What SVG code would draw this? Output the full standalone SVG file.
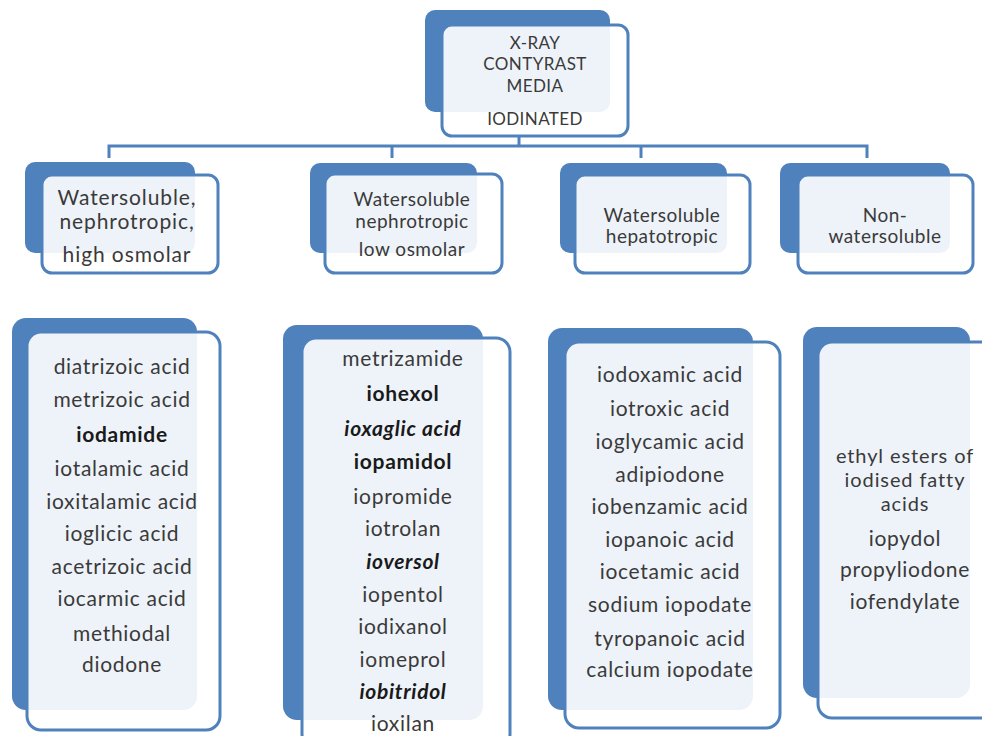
<svg xmlns="http://www.w3.org/2000/svg" width="982" height="736" viewBox="0 0 982 736">
<style>
.back{fill:#4f81bd;}
.front{fill:#ffffff;fill-opacity:0.9;stroke:#4f81bd;stroke-width:3;}
.conn{stroke:#4f81bd;stroke-width:3;fill:none;}
text{font-family:Lato,"Liberation Sans",sans-serif;fill:#3a3a3a;text-anchor:middle;dominant-baseline:central;}
.t{font-size:17px;letter-spacing:0.4px;}
.c1{font-size:21px;letter-spacing:0.9px;}
.c{font-size:19px;letter-spacing:0.5px;}
.l{font-size:21px;letter-spacing:0.7px;}
.s{font-size:20px;letter-spacing:0.9px;}
.b{font-weight:bold;fill:#1a1a1a;}
.bi{font-weight:bold;font-style:italic;fill:#1a1a1a;}
</style>
<rect width="982" height="736" fill="#ffffff"/>
<g id="connectors">
<path class="conn" d="M519 137V146M109 158V146H867V158M392 146V158M641 146V158"/>
</g>
<g id="root">
<rect class="back" x="425" y="10" width="185" height="102" rx="10"/>
<rect class="front" x="442" y="25" width="186" height="111" rx="10"/>
<text class="t" x="535" y="42">X-RAY</text>
<text class="t" x="535" y="63">CONTYRAST</text>
<text class="t" x="535" y="85">MEDIA</text>
<text class="t" x="535" y="118">IODINATED</text>
</g>
<g id="cat1">
<rect class="back" x="25" y="162" width="170" height="91" rx="10"/>
<rect class="front" x="42" y="175" width="176" height="98" rx="10"/>
<text class="c1" x="127" y="196">Watersoluble,</text>
<text class="c1" x="127" y="220">nephrotropic,</text>
<text class="c1" x="127" y="253">high osmolar</text>
</g>
<g id="cat2">
<rect class="back" x="310" y="163" width="167" height="90" rx="10"/>
<rect class="front" x="325" y="174" width="177" height="99" rx="10"/>
<text class="c" x="412" y="198">Watersoluble</text>
<text class="c" x="412" y="220">nephrotropic</text>
<text class="c" x="412" y="248">low osmolar</text>
</g>
<g id="cat3">
<rect class="back" x="560" y="163" width="167" height="90" rx="10"/>
<rect class="front" x="575" y="175" width="175" height="98" rx="10"/>
<text class="c" x="662" y="214">Watersoluble</text>
<text class="c" x="662" y="235">hepatotropic</text>
</g>
<g id="cat4">
<rect class="back" x="780" y="163" width="170" height="90" rx="10"/>
<rect class="front" x="798" y="175" width="175" height="98" rx="10"/>
<text class="c" x="885" y="214">Non-</text>
<text class="c" x="885" y="235">watersoluble</text>
</g>
<g id="list1">
<rect class="back" x="12" y="318" width="185" height="392" rx="14"/>
<rect class="front" x="27" y="332" width="193" height="398" rx="14"/>
<text class="l" x="122" y="365">diatrizoic acid</text>
<text class="l" x="122" y="398">metrizoic acid</text>
<text class="l b" x="122" y="433">iodamide</text>
<text class="l" x="122" y="467">iotalamic acid</text>
<text class="l" x="122" y="500">ioxitalamic acid</text>
<text class="l" x="122" y="532">ioglicic acid</text>
<text class="l" x="122" y="565">acetrizoic acid</text>
<text class="l" x="122" y="597">iocarmic acid</text>
<text class="l" x="122" y="632">methiodal</text>
<text class="l" x="122" y="663">diodone</text>
</g>
<g id="list2">
<rect class="back" x="283" y="325" width="200" height="395" rx="14"/>
<rect class="front" x="302" y="338" width="208" height="410" rx="14"/>
<text class="l" x="403" y="357">metrizamide</text>
<text class="l b" x="403" y="392">iohexol</text>
<text class="l bi" x="403" y="427">ioxaglic acid</text>
<text class="l b" x="403" y="460">iopamidol</text>
<text class="l" x="403" y="495">iopromide</text>
<text class="l" x="403" y="527">iotrolan</text>
<text class="l bi" x="403" y="560">ioversol</text>
<text class="l" x="403" y="593">iopentol</text>
<text class="l" x="403" y="625">iodixanol</text>
<text class="l" x="403" y="658">iomeprol</text>
<text class="l bi" x="403" y="690">iobitridol</text>
<text class="l" x="403" y="722">ioxilan</text>
</g>
<g id="list3">
<rect class="back" x="548" y="328" width="205" height="382" rx="14"/>
<rect class="front" x="565" y="342" width="215" height="386" rx="14"/>
<text class="l" x="670" y="373">iodoxamic acid</text>
<text class="l" x="670" y="407">iotroxic acid</text>
<text class="l" x="670" y="440">ioglycamic acid</text>
<text class="l" x="670" y="473">adipiodone</text>
<text class="l" x="670" y="505">iobenzamic acid</text>
<text class="l" x="670" y="538">iopanoic acid</text>
<text class="l" x="670" y="570">iocetamic acid</text>
<text class="l" x="670" y="603">sodium iopodate</text>
<text class="l" x="670" y="637">tyropanoic acid</text>
<text class="l" x="670" y="668">calcium iopodate</text>
</g>
<g id="list4">
<rect class="back" x="803" y="327" width="167" height="371" rx="14"/>
<rect class="front" x="818" y="342" width="180" height="376" rx="14"/>
<text class="s" x="905" y="455">ethyl esters of</text>
<text class="s" x="905" y="479">iodised fatty</text>
<text class="s" x="905" y="503">acids</text>
<text class="l" x="905" y="537">iopydol</text>
<text class="l" x="905" y="568">propyliodone</text>
<text class="l" x="905" y="600">iofendylate</text>
</g>
</svg>
